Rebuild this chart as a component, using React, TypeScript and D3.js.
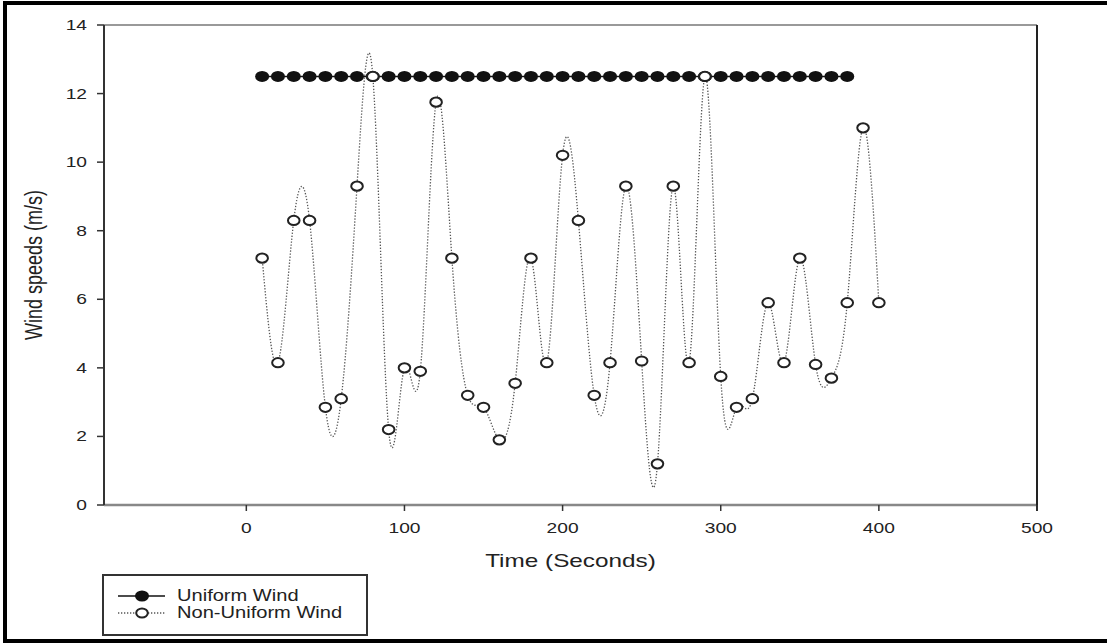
import React from "react";
import * as d3 from "d3";

const uniformTimes = [10,20,30,40,50,60,70,80,90,100,110,120,130,140,150,160,170,180,190,200,210,220,230,240,250,260,270,280,290,300,310,320,330,340,350,360,370,380];
const uniformValues = uniformTimes.map(() => 12.5);

const nonUniformTimes = [10,20,30,40,50,60,70,80,90,100,110,120,130,140,150,160,170,180,190,200,210,220,230,240,250,260,270,280,290,300,310,320,330,340,350,360,370,380,390,400];
const nonUniformValues = [7.2,4.15,8.3,8.3,2.85,3.1,9.3,12.5,2.2,4.0,3.9,11.75,7.2,3.2,2.85,1.9,3.55,7.2,4.15,10.2,8.3,3.2,4.15,9.3,4.2,1.2,9.3,4.15,12.5,3.75,2.85,3.1,5.9,4.15,7.2,4.1,3.7,5.9,11.0,5.9];

const xTicks = [0, 100, 200, 300, 400, 500];
const yTicks = [0, 2, 4, 6, 8, 10, 12, 14];

const FONT = "'Liberation Sans', Arial, sans-serif";
const SX = 1.28;

export default function App() {
  const left = 104, right = 1037, top = 25, bottom = 505;
  const x = d3.scaleLinear().domain([-90, 500]).range([left, right]);
  const y = d3.scaleLinear().domain([0, 14]).range([bottom, top]);

  const uni = uniformTimes.map((t, i) => [t, uniformValues[i]] as [number, number]);
  const non = nonUniformTimes.map((t, i) => [t, nonUniformValues[i]] as [number, number]);

  const lineU = d3.line<[number, number]>().x(d => x(d[0])).y(d => y(d[1]));
  const lineN = d3.line<[number, number]>().x(d => x(d[0])).y(d => y(d[1])).curve(d3.curveNatural);

  const txt = (tx: number, ty: number, s: string, size: number, anchor: string) => (
    <text transform={`translate(${tx},${ty}) scale(${SX},1)`} fontSize={size} textAnchor={anchor} fill="#222" fontFamily={FONT}>{s}</text>
  );

  return (
    <svg width={1107} height={643} style={{ position: "absolute", left: 0, top: 0, background: "#fff" }}>
      <rect x={5} y={3} width={1115} height={638} fill="none" stroke="#000" strokeWidth={4} />
      {/* frame */}
      <line x1={left} x2={right} y1={top} y2={top} stroke="#999" strokeWidth={2} />
      <line x1={left} x2={right} y1={bottom} y2={bottom} stroke="#888" strokeWidth={2.5} />
      <line x1={left} x2={left} y1={top} y2={bottom} stroke="#333" strokeWidth={2} />
      <line x1={right} x2={right} y1={top} y2={bottom + 6} stroke="#222" strokeWidth={2} />
      {/* y ticks */}
      {yTicks.map(t => (
        <g key={"y" + t}>
          <line x1={left - 7} x2={left} y1={y(t)} y2={y(t)} stroke="#333" strokeWidth={1.5} />
          {txt(left - 17, y(t) + 5, String(t), 15, "end")}
        </g>
      ))}
      {/* x ticks */}
      {xTicks.map(t => (
        <g key={"x" + t}>
          <line x1={x(t)} x2={x(t)} y1={bottom} y2={bottom + 6} stroke="#333" strokeWidth={1.5} />
          {txt(x(t), bottom + 28, String(t), 15, "middle")}
        </g>
      ))}
      {txt((left + right) / 2, 567, "Time (Seconds)", 19, "middle")}
      <text transform={`translate(42,${(top + bottom) / 2}) scale(${SX},1) rotate(-90)`} fontSize={18} textAnchor="middle" fill="#222" fontFamily={FONT}>Wind speeds (m/s)</text>

      {/* uniform */}
      <path d={lineU(uni) || ""} fill="none" stroke="#111" strokeWidth={1.5} />
      {uni.map((d, i) => (
        <ellipse key={"u" + i} cx={x(d[0])} cy={y(d[1])} rx={7} ry={5.5} fill="#111" />
      ))}
      {/* non uniform */}
      <path d={lineN(non) || ""} fill="none" stroke="#555" strokeWidth={1.3} strokeDasharray="1.3,1.7" />
      {non.map((d, i) => (
        <ellipse key={"n" + i} cx={x(d[0])} cy={y(d[1])} rx={5.8} ry={4.6} fill="#fff" stroke="#222" strokeWidth={2} />
      ))}

      {/* legend */}
      <rect x={103} y={575} width={264} height={60} fill="#fff" stroke="#333" strokeWidth={2} />
      <line x1={118} x2={165} y1={596} y2={596} stroke="#111" strokeWidth={1.5} />
      <ellipse cx={142} cy={596} rx={7} ry={5.5} fill="#111" />
      {txt(177, 601, "Uniform Wind", 15.7, "start")}
      <line x1={118} x2={165} y1={613} y2={613} stroke="#555" strokeWidth={1.3} strokeDasharray="1.3,1.7" />
      <ellipse cx={142} cy={613} rx={5.8} ry={4.6} fill="#fff" stroke="#222" strokeWidth={2} />
      {txt(177, 618, "Non-Uniform Wind", 15.7, "start")}
    </svg>
  );
}
